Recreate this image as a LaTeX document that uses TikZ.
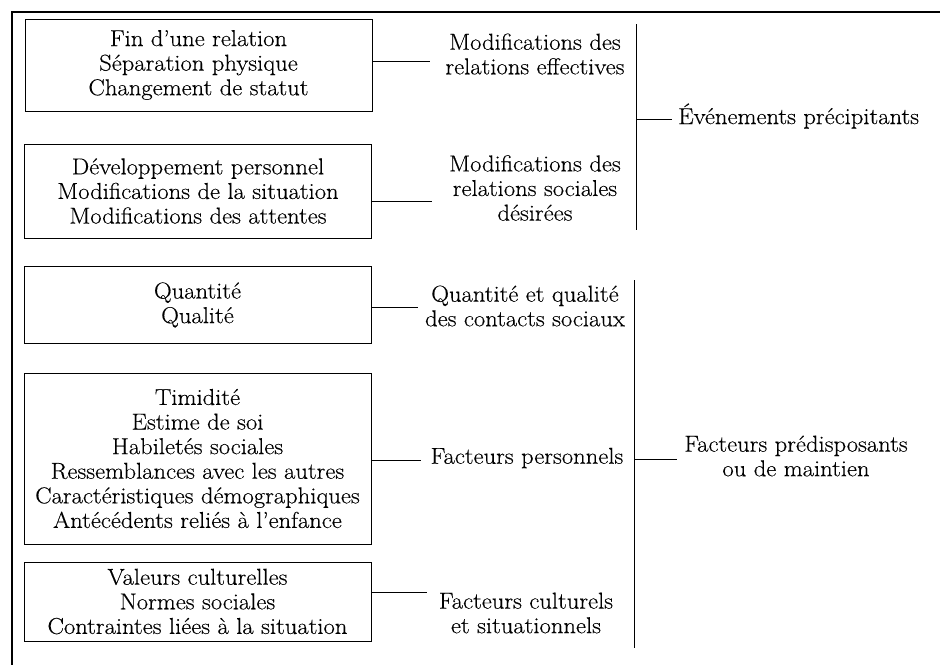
\documentclass[tikz,border=0pt]{standalone}
\usepackage{fontspec}
\setmainfont{Latin Modern Roman}[FakeStretch=1.07,FakeBold=0.3]
\begin{document}
\begin{tikzpicture}[x=1pt,y=-1pt,
  every node/.style={font=\fontsize{23}{24.6}\selectfont, inner sep=0pt},
  itembox/.style={draw, line width=0.9pt, minimum width=347pt, align=center},
  lbl/.style={align=center},
  conn/.style={line width=0.9pt}]
\useasboundingbox (0,0) rectangle (940,665);
% outer frame (top and left edges)
\draw[line width=1.6pt] (940,12) -- (12,12) -- (12,665);
% boxes
\node[itembox, minimum height=92pt] (b1) at (198.5,65) {Fin d’une relation\\Séparation physique\\Changement de statut};
\node[itembox, minimum height=94pt] (b2) at (198,191) {Développement personnel\\Modifications de la situation\\Modifications des attentes};
\node[itembox, minimum height=77pt] (b3) at (197.5,305) {Quantité\\Qualité};
\node[itembox, minimum height=171pt] (b4) at (197.5,458.5) {Timidité\\Estime de soi\\Habiletés sociales\\Ressemblances avec les autres\\Caractéristiques démographiques\\Antécédents reliés à l’enfance};
\node[itembox, minimum height=79pt] (b5) at (197.5,601.5) {Valeurs culturelles\\Normes sociales\\Contraintes liées à la situation};
% labels
\node[lbl] (l1) at (535,54) {Modifications des\\relations effectives};
\node[lbl] (l2) at (535,188) {Modifications des\\relations sociales\\désirées};
\node[lbl] (l3) at (525,306) {Quantité et qualité\\des contacts sociaux};
\node[lbl] (l4) at (527,458) {Facteurs personnels};
\node[lbl] (l5) at (526,613) {Facteurs culturels\\et situationnels};
\node[lbl, anchor=west] (ev) at (678,116) {Événements précipitants};
\node[lbl] (fp) at (796,456) {Facteurs prédisposants\\ou de maintien};
% connector end points
\coordinate (c1) at (430,61);
\coordinate (c2) at (432,201);
\coordinate (c3) at (418,307);
\coordinate (c4) at (421,460);
\coordinate (c5) at (427,592);
\coordinate (v1t) at (636,24);
\coordinate (v1b) at (636,230);
\coordinate (v1m) at (636,119);
\coordinate (v2t) at (634,280);
\coordinate (v2b) at (634,648);
\coordinate (v2m) at (634,459);
\coordinate (v1e) at (672,119);
\coordinate (v2e) at (677,459);
% connectors
\draw[conn] (b1.east |- c1) -- (c1);
\draw[conn] (b2.east |- c2) -- (c2);
\draw[conn] (b3.east |- c3) -- (c3);
\draw[conn] (b4.east |- c4) -- (c4);
\draw[conn] (b5.east |- c5) -- (c5);
\draw[conn] (v1t) -- (v1b);
\draw[conn] (v1m) -- (v1e);
\draw[conn] (v2t) -- (v2b);
\draw[conn] (v2m) -- (v2e);
\end{tikzpicture}
\end{document}
